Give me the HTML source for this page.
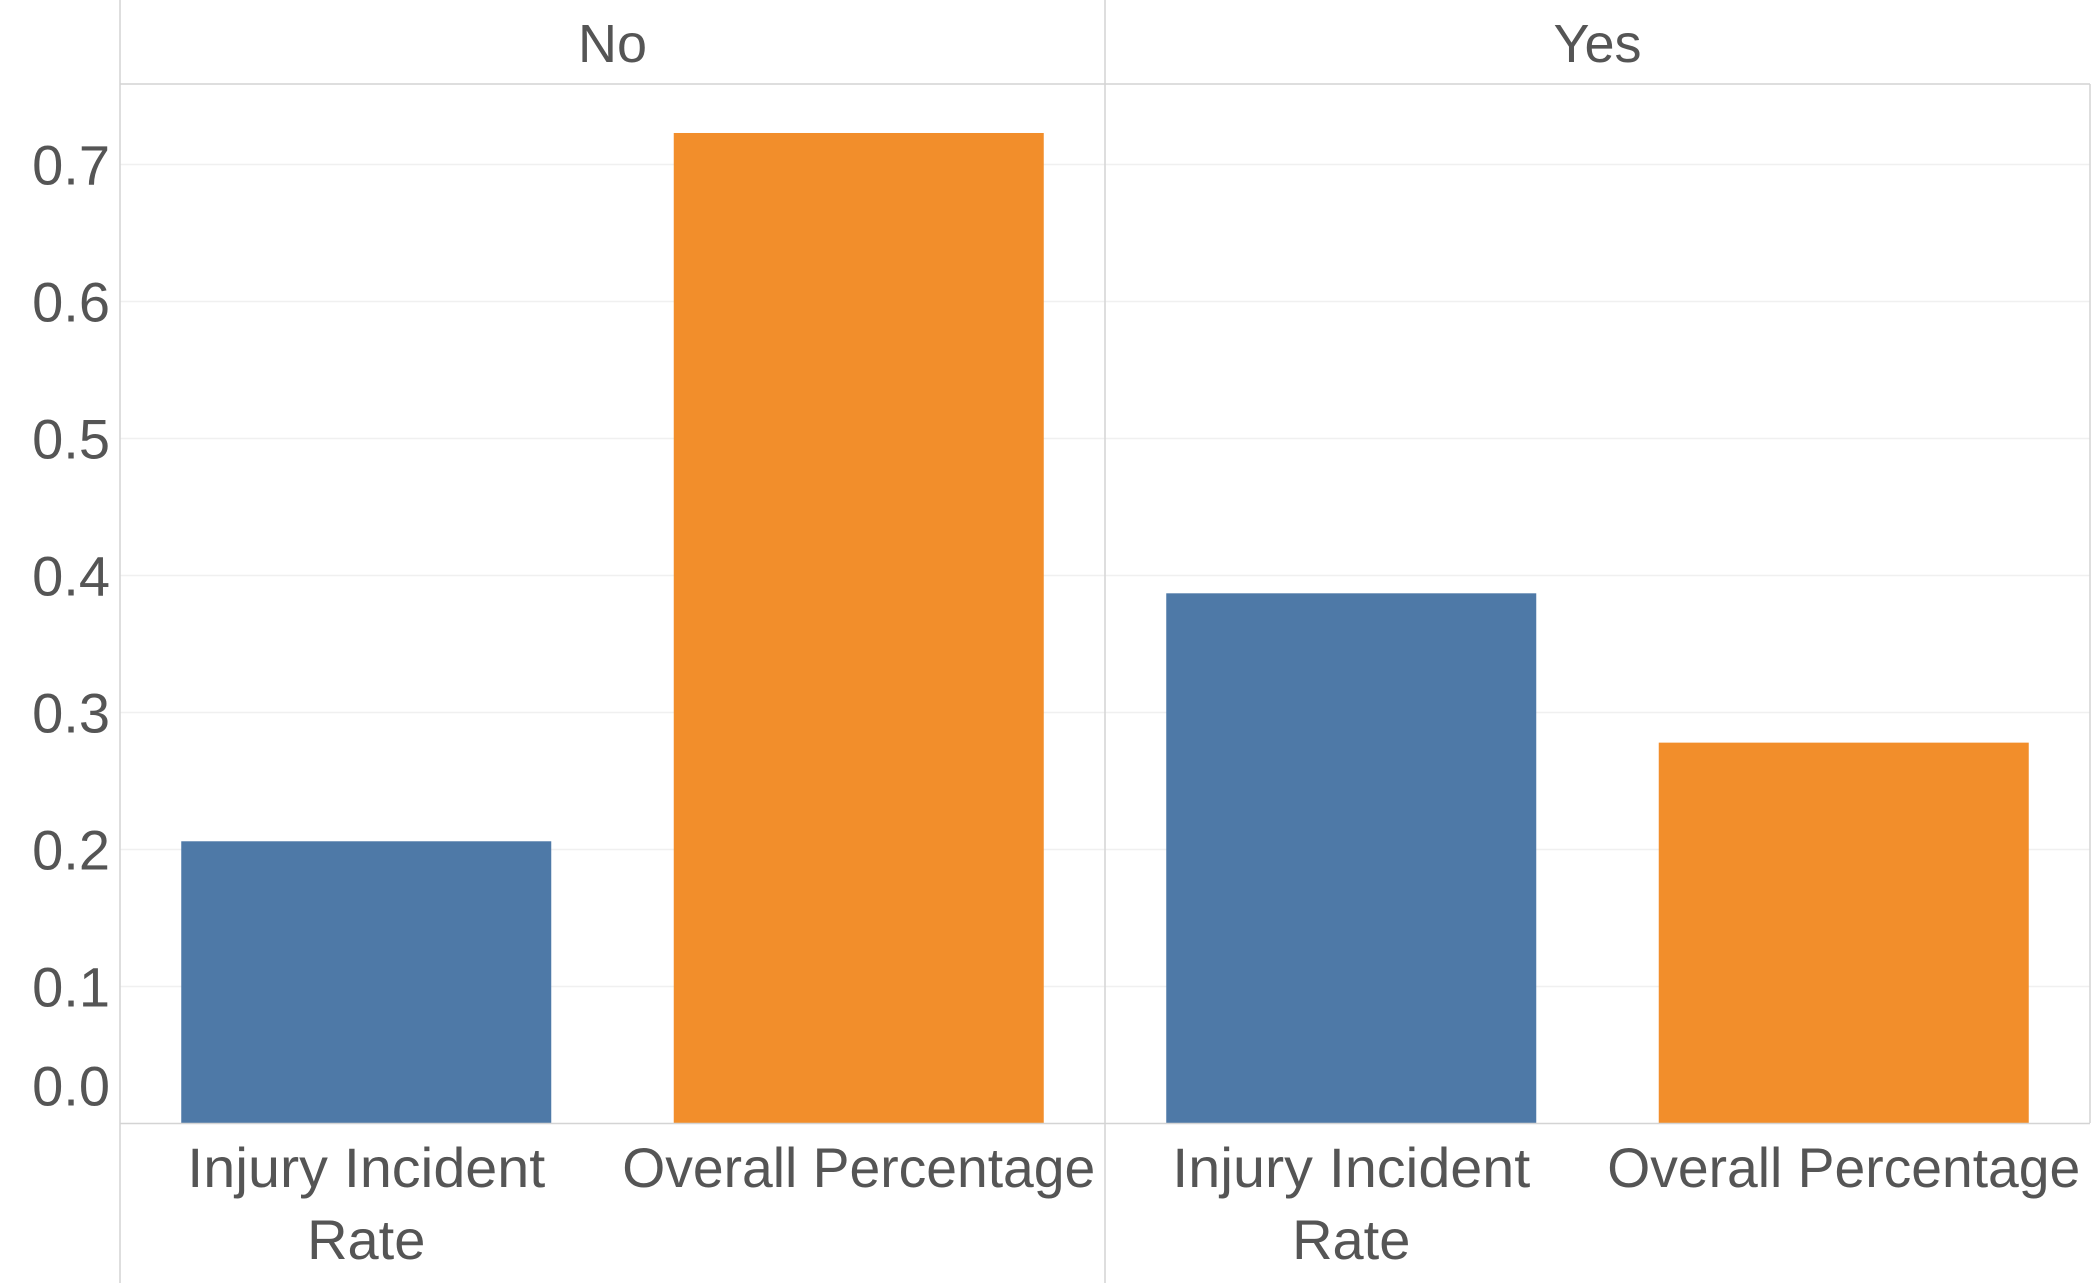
<!DOCTYPE html>
<html><head><meta charset="utf-8"><style>
html,body{margin:0;padding:0;background:#fff;}
svg{display:block;font-family:"Liberation Sans",sans-serif;}
</style></head><body>
<svg id="chart" width="2091" height="1283" viewBox="0 0 2091 1283" xmlns="http://www.w3.org/2000/svg">
<g id="grid"></g>
<g id="bars"></g>
<g id="axes"></g>
</svg>
<script>
const panels = ["No", "Yes"];
const categories = ["Injury Incident Rate", "Overall Percentage"];
const injuryValues = [0.206, 0.387];
const overallValues = [0.723, 0.278];
const tickValues = [0.0, 0.1, 0.2, 0.3, 0.4, 0.5, 0.6, 0.7];
const tickLabels = ["0.0", "0.1", "0.2", "0.3", "0.4", "0.5", "0.6", "0.7"];

const NS = "http://www.w3.org/2000/svg";
const plotLeft = 120, plotRight = 2090, headerBottom = 84, zeroY = 1123.5, pxPer = 1370;
const panelW = (plotRight - plotLeft) / panels.length;
const colors = ["#4e79a7", "#f28e2b"];
function y(v){ return zeroY - v * pxPer; }
function mk(tag, attrs, parent){ const e = document.createElementNS(NS, tag); for (const k in attrs) e.setAttribute(k, attrs[k]); parent.appendChild(e); return e; }
const grid = document.getElementById('grid'), bars = document.getElementById('bars'), axes = document.getElementById('axes');

tickValues.forEach((t, i) => {
  if (t > 0) {
    const g = mk('line', {x1: plotLeft, x2: plotRight, y1: y(t), y2: y(t), stroke: '#f0f0f0', 'stroke-width': 1.5}, grid);
    
    
  }
  const ty = t === 0 ? y(t) - 18 : y(t) + 20;
  const lb = mk('text', {x: 110, y: ty, 'text-anchor': 'end', 'font-size': 56, fill: '#555'}, axes);
  lb.textContent = tickLabels[i];
  
  
});

const series = [injuryValues, overallValues];
panels.forEach((p, pi) => {
  const px = plotLeft + pi * panelW;
  const h = mk('text', {x: px + panelW / 2, y: 62, 'text-anchor': 'middle', 'font-size': 54, fill: '#555'}, axes);
  h.textContent = p;
  
  
  categories.forEach((c, ci) => {
    const slot = panelW / categories.length;
    const cx = px + slot * ci + slot / 2;
    const bw = 370;
    const v = series[ci][pi];
    const r = mk('rect', {x: cx - bw / 2, y: y(v), width: bw, height: zeroY - y(v), fill: colors[ci]}, bars);
    
    
    const lines = ci === 0 ? ["Injury Incident", "Rate"] : ["Overall Percentage"];
    const lens = ci === 0 ? [358, null] : [473];
    lines.forEach((ln, li) => {
      const a = {x: cx, y: 1187 + li * 72, 'text-anchor': 'middle', 'font-size': 56, fill: '#555'};
      if (lens[li]) { a.textLength = lens[li]; a.lengthAdjust = 'spacingAndGlyphs'; }
      const t = mk('text', a, axes);
      t.textContent = ln;
      
      
    });
  });
});

[[plotLeft, 0, plotLeft, 1283], [1105, 0, 1105, 1283], [2090, 84, 2090, 1123], [plotLeft, headerBottom, plotRight, headerBottom], [plotLeft, zeroY, plotRight, zeroY]].forEach(l => {
  const e = mk('line', {x1: l[0], y1: l[1], x2: l[2], y2: l[3], stroke: '#d4d4d4', 'stroke-width': 1.5}, axes);
  
  
});
</script>
</body></html>
